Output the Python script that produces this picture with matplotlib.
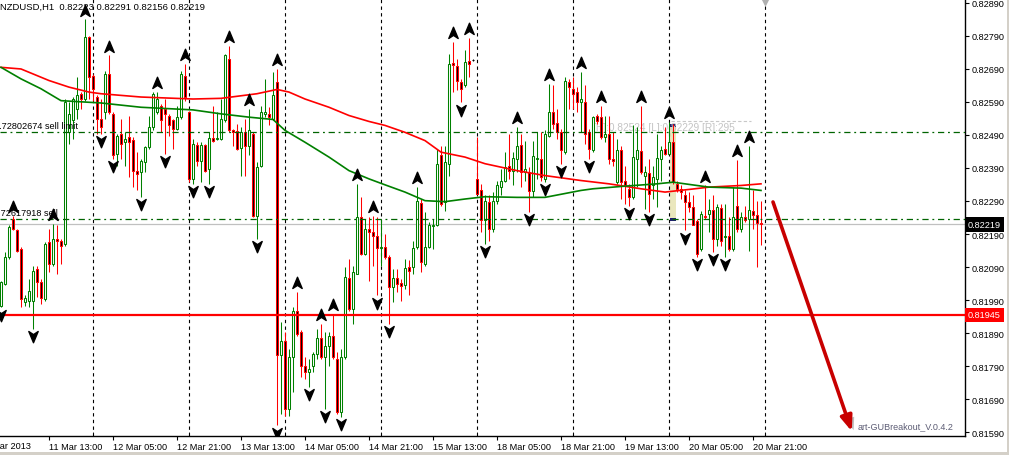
import numpy as np
import matplotlib.pyplot as plt
from matplotlib.path import Path
from matplotlib.patches import Rectangle
import matplotlib.patheffects as pe

plt.rcParams['font.family'] = ['Liberation Sans', 'DejaVu Sans']

# NZDUSD H1, prices in 1e-5 units (pipettes)
o = [81973, 82039, 82120, 82236, 82201, 82145, 81985, 81988, 81988, 82084,
     82044, 81993, 82165, 82100, 82175, 82170, 82160, 82498, 82534, 82569,
     82615, 82599, 82786, 82670, 82605, 82537, 82559, 82675, 82554, 82433,
     82493, 82468, 82483, 82476, 82382, 82377, 82408, 82453, 82514, 82559,
     82579, 82569, 82549, 82534, 82509, 82544, 82670, 82559, 82357, 82460,
     82410, 82460, 82387, 82480, 82478, 82478, 82534, 82721, 82504, 82501,
     82450, 82498, 82458, 82493, 82246, 82397, 82554, 82554, 82539, 82650,
     81822, 81867, 81660, 81817, 81958, 81892, 81791, 81771, 81791, 81827,
     81874, 81817, 81852, 81882, 81812, 81650, 81817, 82056, 81963, 82069,
     82241, 82130, 82204, 82195, 82183, 82147, 82150, 82120, 82029, 82056,
     82042, 82036, 82089, 82089, 82150, 82284, 82100, 82150, 82214, 82216,
     82428, 82286, 82403, 82709, 82700, 82650, 82640, 82713, 82716, 82357,
     82322, 82231, 82286, 82206, 82291, 82332, 82352, 82397, 82382, 82418,
     82460, 82377, 82377, 82319, 82416, 82418, 82357, 82488, 82559, 82527,
     82498, 82438, 82650, 82630, 82620, 82589, 82591, 82498, 82443, 82547,
     82544, 82483, 82493, 82418, 82347, 82445, 82352, 82327, 82302, 82418,
     82440, 82367, 82375, 82337, 82357, 82416, 82448, 82433, 82470, 82342,
     82327, 82307, 82286, 82271, 82228, 82145, 82246, 82251, 82264, 82175,
     82268, 82180, 82183, 82145, 82276, 82206, 82241, 82234, 82261, 82248,
     82223]
h = [82049, 82135, 82216, 82246, 82206, 82150, 82004, 82054, 82094, 82094,
     82054, 82165, 82206, 82221, 82216, 82175, 82599, 82589, 82605, 82665,
     82620, 82840, 82791, 82675, 82610, 82599, 82685, 82731, 82559, 82493,
     82539, 82498, 82549, 82483, 82438, 82418, 82458, 82549, 82620, 82620,
     82584, 82599, 82554, 82539, 82579, 82685, 82706, 82564, 82478, 82468,
     82468, 82463, 82498, 82579, 82559, 82599, 82736, 82761, 82509, 82524,
     82514, 82539, 82569, 82498, 82408, 82579, 82660, 82574, 82680, 82690,
     81923, 81892, 81842, 81968, 82014, 81898, 81817, 81812, 81832, 81903,
     81918, 81892, 81892, 81948, 81832, 81842, 82089, 82115, 82094, 82342,
     82302, 82236, 82241, 82246, 82241, 82236, 82190, 82125, 82084, 82084,
     82054, 82115, 82110, 82170, 82332, 82296, 82256, 82226, 82236, 82448,
     82458, 82458, 82736, 82773, 82721, 82660, 82746, 82783, 82721, 82483,
     82342, 82307, 82307, 82317, 82352, 82387, 82438, 82493, 82438, 82514,
     82493, 82473, 82392, 82473, 82498, 82498, 82504, 82645, 82640, 82569,
     82509, 82665, 82660, 82665, 82635, 82680, 82640, 82509, 82549, 82554,
     82579, 82549, 82549, 82498, 82478, 82458, 82397, 82342, 82519, 82514,
     82579, 82397, 82418, 82397, 82493, 82458, 82514, 82529, 82524, 82352,
     82337, 82322, 82317, 82307, 82236, 82261, 82337, 82296, 82307, 82281,
     82281, 82281, 82241, 82332, 82413, 82256, 82276, 82458, 82322, 82291,
     82291]
l = [81968, 82034, 82115, 82201, 82135, 81968, 81973, 81968, 81903, 81999,
     81978, 81988, 82074, 82094, 82069, 82100, 82155, 82463, 82478, 82539,
     82569, 82594, 82599, 82594, 82493, 82493, 82539, 82554, 82418, 82397,
     82418, 82397, 82362, 82332, 82322, 82302, 82377, 82448, 82504, 82554,
     82498, 82433, 82488, 82448, 82504, 82539, 82594, 82347, 82342, 82397,
     82347, 82377, 82342, 82468, 82476, 82476, 82529, 82498, 82458, 82443,
     82367, 82367, 82428, 82241, 82175, 82392, 82544, 82519, 82534, 81610,
     81645, 81640, 81640, 81711, 81882, 81756, 81751, 81726, 81771, 81812,
     81812, 81660, 81791, 81812, 81645, 81635, 81812, 81958, 81918, 82069,
     82125, 82125, 82049, 82094, 82004, 82094, 82115, 81918, 81983, 82014,
     81988, 82024, 82004, 82069, 82145, 82074, 82094, 82147, 82145, 82214,
     82276, 82261, 82367, 82620, 82625, 82589, 82635, 82665, 82713, 82312,
     82195, 82160, 82170, 82195, 82281, 82307, 82347, 82357, 82337, 82377,
     82332, 82352, 82256, 82302, 82357, 82352, 82347, 82483, 82509, 82478,
     82403, 82433, 82569, 82569, 82559, 82498, 82463, 82418, 82438, 82524,
     82478, 82468, 82403, 82397, 82342, 82296, 82281, 82276, 82296, 82332,
     82372, 82266, 82256, 82296, 82271, 82352, 82428, 82433, 82342, 82317,
     82296, 82201, 82256, 82216, 82120, 82140, 82236, 82195, 82135, 82155,
     82155, 82120, 82140, 82140, 82195, 82195, 82226, 82140, 82206, 82089,
     82156]
c = [82044, 82120, 82211, 82206, 82140, 81993, 81996, 82017, 82079, 82044,
     81996, 82160, 82100, 82175, 82170, 82155, 82589, 82554, 82599, 82610,
     82599, 82786, 82665, 82630, 82539, 82514, 82675, 82559, 82428, 82488,
     82463, 82478, 82468, 82382, 82372, 82411, 82453, 82514, 82615, 82599,
     82534, 82554, 82519, 82509, 82544, 82675, 82605, 82357, 82463, 82411,
     82460, 82382, 82480, 82473, 82482, 82539, 82733, 82504, 82498, 82448,
     82498, 82458, 82504, 82246, 82392, 82559, 82559, 82544, 82610, 81822,
     81867, 81660, 81817, 81958, 81887, 81791, 81771, 81781, 81827, 81874,
     81817, 81852, 81880, 81817, 81650, 81817, 82059, 81963, 82074, 82241,
     82130, 82206, 82195, 82183, 82147, 82150, 82120, 82029, 82056, 82039,
     82032, 82086, 82079, 82147, 82291, 82105, 82150, 82216, 82218, 82403,
     82281, 82408, 82706, 82703, 82655, 82630, 82711, 82706, 82716, 82312,
     82231, 82291, 82206, 82291, 82337, 82352, 82392, 82382, 82420, 82458,
     82377, 82387, 82319, 82426, 82420, 82362, 82493, 82561, 82524, 82498,
     82443, 82655, 82635, 82615, 82589, 82599, 82493, 82448, 82544, 82531,
     82483, 82493, 82418, 82410, 82445, 82347, 82337, 82302, 82423, 82443,
     82377, 82377, 82312, 82362, 82420, 82443, 82433, 82470, 82347, 82327,
     82317, 82286, 82271, 82218, 82130, 82251, 82241, 82264, 82175, 82271,
     82170, 82183, 82145, 82241, 82206, 82241, 82231, 82264, 82248, 82224,
     82219]

# fractal bars
up_frac = [3, 13, 21, 27, 39, 46, 57, 62, 69, 74, 80, 83, 89, 93, 104, 113, 117,
           129, 137, 145, 150, 160, 167, 176, 184, 187]
dn_frac = [0, 8, 25, 28, 35, 41, 48, 52, 64, 69, 77, 81, 85, 94, 97, 115, 121,
           132, 136, 140, 147, 157, 162, 171, 174, 178, 181]

# moving averages read at some bars
red_idx = [0, 5, 12, 17, 22, 25, 35, 48, 55, 64, 69, 72, 76, 82, 87, 92, 96, 101,
           106, 110, 116, 121, 129, 136, 145, 152, 160, 166, 172, 177, 185, 190]
red_ma = [82695, 82690, 82655, 82635, 82620, 82615, 82605, 82599, 82601, 82615,
          82628, 82620, 82599, 82574, 82549, 82531, 82519, 82498, 82473, 82438,
          82423, 82403, 82382, 82367, 82352, 82342, 82327, 82317, 82325, 82332,
          82337, 82342]
green_idx = [0, 5, 10, 15, 25, 35, 48, 55, 62, 68, 71, 76, 82, 87, 92, 96, 101,
             106, 111, 116, 121, 129, 136, 145, 148, 156, 164, 168, 177, 185, 190]
green_ma = [82695, 82660, 82630, 82594, 82587, 82574, 82566, 82554, 82544, 82537,
            82504, 82468, 82423, 82382, 82357, 82339, 82317, 82291, 82288, 82296,
            82303, 82301, 82301, 82322, 82327, 82335, 82342, 82347, 82332, 82329,
            82322]

tick_idx = [12, 28, 44, 60, 76, 92, 108, 124, 140, 156, 172, 188]
tick_lab = ["11 Mar 13:00", "12 Mar 05:00", "12 Mar 21:00", "13 Mar 13:00",
            "14 Mar 05:00", "14 Mar 21:00", "15 Mar 13:00", "18 Mar 05:00",
            "18 Mar 21:00", "19 Mar 13:00", "20 Mar 05:00", "20 Mar 21:00"]
sep_idx = [23, 47, 71, 95, 119, 143, 167, 191]
y_ticks = [0.81590, 0.81690, 0.81790, 0.81890, 0.81990, 0.82090, 0.82190,
           0.82290, 0.82390, 0.82490, 0.82590, 0.82690, 0.82790, 0.82890]

sell_limit = 0.82498
sell_stop = 0.82236
bid = 0.82219
support = 0.81945
box_hi, box_lo = 0.82524, 0.82229
arrow_from = (193, 0.82287)
arrow_to = (212.7, 0.81592)

o, h, l, c = [np.array(v) / 1e5 for v in (o, h, l, c)]
x = np.arange(len(o))
GREEN = '#008000'
RED = '#ff0000'
FS = 6.6

fig = plt.figure(figsize=(10.09, 4.56), dpi=100)
ax = fig.add_axes([0, 19 / 456, 965 / 1009, 437 / 456])
ax.set_xlim(-0.25, 241)
ax.set_ylim(0.81578, 0.82902)

# range box from the breakout indicator
ax.add_patch(Rectangle((167.3, box_lo), 1.5, box_hi - box_lo, fc='#eae7bd', ec='none', zorder=1))
ax.add_patch(Rectangle((167.3, box_hi - 0.00009), 1.5, 0.00009, fc='#1e1e6e', ec='none', zorder=1))
ax.add_patch(Rectangle((167.3, box_lo), 1.5, 0.00009, fc='#1e1e6e', ec='none', zorder=1))
ax.hlines(box_hi + 0.00009, 167.5, 187.5, colors='#c8c8c8', lw=0.8, linestyles=(0, (3, 2)), zorder=1)
ax.text(148, box_hi - 0.0001, "[H]:0.82524 [L]:0.82229 [R]:295", color='#c4c4c4',
        fontsize=7.3, va='center', ha='left', zorder=1)

# candles
bull = c > o
doji = c == o
col = np.where(bull, GREEN, RED).astype(object)
col[doji] = 'black'
face = np.where(bull, 'white', 'black')
ax.vlines(x, l, h, colors=col, lw=0.75, zorder=2)
ax.bar(x, np.abs(c - o), bottom=np.minimum(o, c), width=0.5, color=face,
       edgecolor=col, linewidth=0.75, zorder=3)

# period separators
for s in sep_idx:
    ax.axvline(s, color='black', lw=0.8, ls=(0, (3, 3)), zorder=1.5)

# horizontal levels
ax.axhline(sell_limit, color='#006400', lw=0.9, ls=(0, (5, 3, 1.5, 3)), zorder=4)
ax.axhline(sell_stop, color='#006400', lw=0.9, ls=(0, (5, 3, 1.5, 3)), zorder=4)
ax.axhline(bid, color='#c0c0c0', lw=0.9, zorder=1.5)
ax.axhline(support, color=RED, lw=1.6, zorder=4)
ax.annotate("0.72802674 sell limit", xy=(19.3, sell_limit), xytext=(0, 1.5),
            textcoords='offset points', ha='right', va='bottom', fontsize=FS)
ax.annotate("0.72617918 sell", xy=(14.3, sell_stop), xytext=(0, 1.5),
            textcoords='offset points', ha='right', va='bottom', fontsize=FS)

# moving averages
ax.plot(red_idx, np.array(red_ma) / 1e5, color=RED, lw=1.2, zorder=4)
ax.plot(green_idx, np.array(green_ma) / 1e5, color=GREEN, lw=1.2, zorder=4)

# fractals
up_path = Path([(0, 1), (0.75, -0.8), (0, -0.3), (-0.75, -0.8), (0, 1)],
               [Path.MOVETO, Path.LINETO, Path.LINETO, Path.LINETO, Path.CLOSEPOLY])
dn_path = Path([(0, -1), (0.75, 0.8), (0, 0.3), (-0.75, 0.8), (0, -1)],
               [Path.MOVETO, Path.LINETO, Path.LINETO, Path.LINETO, Path.CLOSEPOLY])
ax.plot(up_frac, h[up_frac] + 0.00027, ls='none', marker=up_path, ms=9,
        color='black', zorder=6)
ax.plot(dn_frac, l[dn_frac] - 0.00022, ls='none', marker=dn_path, ms=9,
        color='black', zorder=6)

# forecast arrow
ax.annotate('', xy=arrow_to, xytext=arrow_from, zorder=7,
            arrowprops=dict(arrowstyle='-|>,head_length=0.9,head_width=0.35', lw=2.6,
                            color='#c80000', shrinkA=0, shrinkB=0,
                            path_effects=[pe.withSimplePatchShadow(offset=(2.5, -2.5),
                                                                   shadow_rgbFace='#808080',
                                                                   alpha=0.5)]))

# axes styling
for side in ('top', 'left'):
    ax.spines[side].set_visible(False)
ax.spines['right'].set_linewidth(1)
ax.spines['bottom'].set_linewidth(1)
ax.yaxis.tick_right()
ax.set_yticks(y_ticks)
ax.set_yticklabels(["%.5f" % v for v in y_ticks])
ax.tick_params(axis='y', direction='out', length=3, labelsize=FS, pad=2)
ax.set_xticks(tick_idx)
ax.set_xticklabels(tick_lab, ha='left')
ax.set_xticks(sep_idx, minor=True)
ax.tick_params(axis='x', which='major', direction='out', length=3, labelsize=FS, pad=1.5)
ax.tick_params(axis='x', which='minor', direction='in', length=3)
ax.text(-5.3, -0.011, "11 Mar 2013", transform=ax.get_xaxis_transform(), ha='left',
        va='top', fontsize=FS)

# price tags on the scale
ax.text(1.003, bid, "0.82219", transform=ax.get_yaxis_transform(), color='white',
        fontsize=FS, va='center', ha='left',
        bbox=dict(boxstyle='square,pad=0.3', fc='black', ec='none'))
ax.text(1.003, support, "0.81945", transform=ax.get_yaxis_transform(), color='white',
        fontsize=FS, va='center', ha='left',
        bbox=dict(boxstyle='square,pad=0.3', fc=RED, ec='none'))

ax.text(0.0, 0.984, "NZDUSD,H1  0.82223 0.82291 0.82156 0.82219", transform=ax.transAxes,
        ha='left', va='center', fontsize=6.8)
ax.text(0.9876, 0.023, "art-GUBreakout_V.0.4.2", transform=ax.transAxes, ha='right',
        va='center', fontsize=6.5, color='#5c5c74')
ax.plot([191], [1.0], transform=ax.get_xaxis_transform(), marker='v', ms=8,
        color='#b0b0b0', clip_on=False, zorder=8)

fig.patches.append(Rectangle((1007 / 1009, 0), 2 / 1009, 1, transform=fig.transFigure,
                             fc='#d4d0c8', ec='none'))
fig.patches.append(Rectangle((0, 0), 1, 3 / 456, transform=fig.transFigure,
                             fc='#d4d0c8', ec='none'))

fig.savefig('out.png', dpi=100)
